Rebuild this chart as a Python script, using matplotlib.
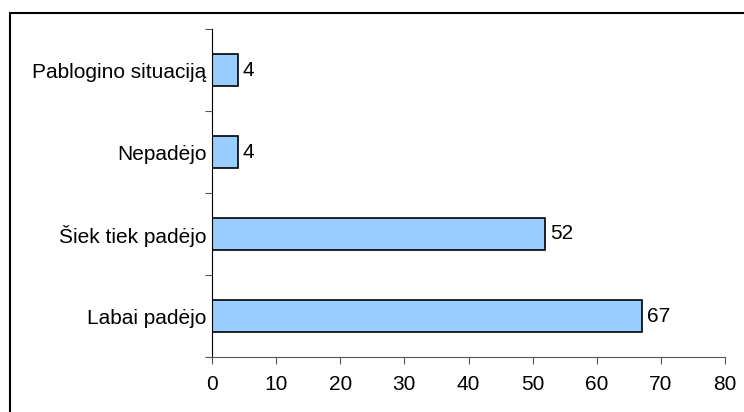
import matplotlib.pyplot as plt
import matplotlib.patches as mpatches

plt.rcParams['font.family'] = ['Liberation Sans', 'DejaVu Sans']

# Données (du bas vers le haut)
categories = ['Labai padėjo', 'Šiek tiek padėjo', 'Nepadėjo', 'Pablogino situaciją']
values = [67, 52, 4, 4]
x_ticks = [0, 10, 20, 30, 40, 50, 60, 70, 80]

fs = 15

fig = plt.figure(figsize=(7.44, 4.12), dpi=100)
ax = fig.add_axes([212 / 744, 1 - 357 / 412, 513 / 744, 328 / 412])

pos = list(range(len(categories)))
ax.barh(pos, values, height=0.4, color='#99CCFF', edgecolor='black', linewidth=1.2)

for p, v in zip(pos, values):
    ax.text(v + 0.8, p, str(v), va='center', ha='left', fontsize=fs)

ax.set_xlim(0, 80)
ax.set_ylim(-0.5, len(categories) - 0.5)
ax.set_xticks(x_ticks)
ax.set_xticklabels([str(t) for t in x_ticks], fontsize=fs)

# graduations aux limites des catégories, étiquettes au centre
ax.set_yticks([i - 0.5 for i in range(len(categories) + 1)])
ax.set_yticklabels([])
ax.set_yticks(pos, minor=True)
ax.set_yticklabels(categories, minor=True, fontsize=fs)
ax.tick_params(axis='y', which='minor', length=0, pad=4)
ax.tick_params(axis='y', which='major', length=5, color='#555555')
ax.tick_params(axis='x', length=5, color='#555555', pad=8)

ax.spines['top'].set_visible(False)
ax.spines['right'].set_visible(False)
ax.spines['left'].set_color('black')
ax.spines['bottom'].set_color('#555555')

# cadre extérieur
border = mpatches.Rectangle((10 / 744, -0.05), 1.0, 1 - 13 / 412 + 0.05,
                            transform=fig.transFigure, fill=False,
                            edgecolor='black', linewidth=1.5)
fig.patches.append(border)

fig.savefig('out.png', dpi=100)
